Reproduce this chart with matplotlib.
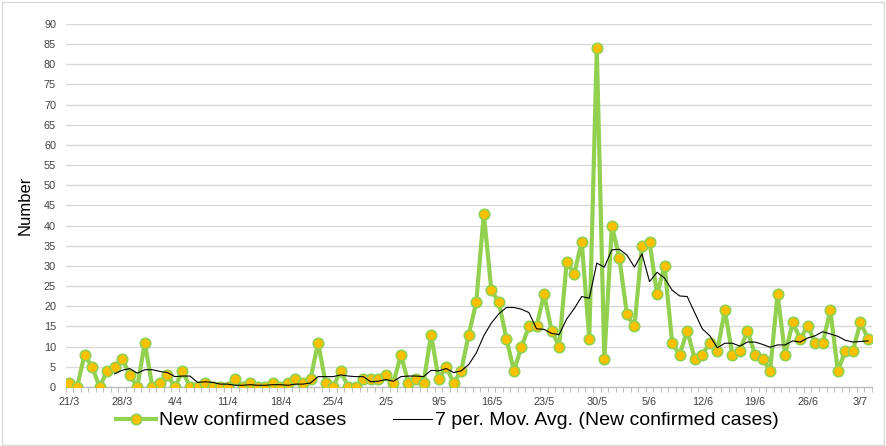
import numpy as np
import pandas as pd
import matplotlib
matplotlib.use("Agg")
import matplotlib.pyplot as plt
from matplotlib.patches import Rectangle
from matplotlib.lines import Line2D

plt.rcParams['font.family'] = ['Liberation Sans', 'DejaVu Sans']

new_cases = [1, 0, 8, 5, 0, 4, 5, 7, 3, 0,
             11, 0, 1, 3, 0, 4, 0, 0, 1, 0,
             0, 0, 2, 0, 1, 0, 0, 1, 0, 1,
             2, 1, 2, 11, 1, 0, 4, 0, 0, 2,
             2, 2, 3, 1, 8, 1, 2, 1, 13, 2,
             5, 1, 4, 13, 21, 43, 24, 21, 12, 4,
             10, 15, 15, 23, 14, 10, 31, 28, 36, 12,
             84, 7, 40, 32, 18, 15, 35, 36, 23, 30,
             11, 8, 14, 7, 8, 11, 9, 19, 8, 9,
             14, 8, 7, 4, 23, 8, 16, 12, 15, 11,
             11, 19, 4, 9, 9, 16, 12]
tick_labels = ['21/3', '28/3', '4/4', '11/4', '18/4', '25/4', '2/5', '9/5',
               '16/5', '23/5', '30/5', '5/6', '12/6', '19/6', '26/6', '3/7']
label_every = 7
series_names = ['New confirmed cases', '7 per. Mov. Avg. (New confirmed cases)']

x = np.arange(len(new_cases))
ma = pd.Series(new_cases).rolling(7).mean()

fig = plt.figure(figsize=(8.87, 4.46), dpi=100)
ax = fig.add_axes([0.0741, 0.1323, 0.9087, 0.8139])

green = '#92D050'
ax.plot(x, new_cases, color=green, lw=3, marker='o', markersize=7.5,
        markerfacecolor='#FFC000', markeredgecolor=green, markeredgewidth=1.2,
        zorder=3, solid_joinstyle='round')
ax.plot(x, ma, color='black', lw=0.8, zorder=4)

ax.set_xlim(-0.5, len(new_cases) - 0.5)
ax.set_ylim(0, 90)
ax.set_yticks(np.arange(0, 91, 5))
ax.yaxis.grid(True, color='#D9D9D9', lw=1)
ax.set_axisbelow(True)

ax.set_xticks(np.arange(0, len(tick_labels) * label_every, label_every))
ax.set_xticklabels(tick_labels)
ax.set_xticks(np.arange(-0.5, len(new_cases), 1), minor=True)
ax.tick_params(axis='x', which='major', length=0, pad=7, labelsize=7.8, colors='#404040')
ax.tick_params(axis='x', which='minor', length=3.5, color='#BFBFBF', width=0.8)
ax.tick_params(axis='y', length=0, pad=7, labelsize=7.8, colors='#404040')

for s in ['top', 'right', 'left']:
    ax.spines[s].set_visible(False)
ax.spines['bottom'].set_color('#BFBFBF')
ax.spines['bottom'].set_linewidth(1)

ax.set_ylabel('Number', fontsize=12, color='black', labelpad=8)

h1 = Line2D([], [], color=green, lw=3, marker='o', markersize=7.5,
            markerfacecolor='#FFC000', markeredgecolor=green, markeredgewidth=1.2)
h2 = Line2D([], [], color='black', lw=0.8)
fig.legend([h1, h2], series_names, loc='center', bbox_to_anchor=(0.5045, 0.057),
           ncol=2, frameon=False, fontsize=14, handlelength=2.05,
           handletextpad=0.15, columnspacing=2.4, borderpad=0.2)

fig.add_artist(Rectangle((0.002, 0.003), 0.995, 0.993, transform=fig.transFigure,
                         fill=False, edgecolor='#D9D9D9', lw=1))

fig.savefig('out.png', dpi=100)
